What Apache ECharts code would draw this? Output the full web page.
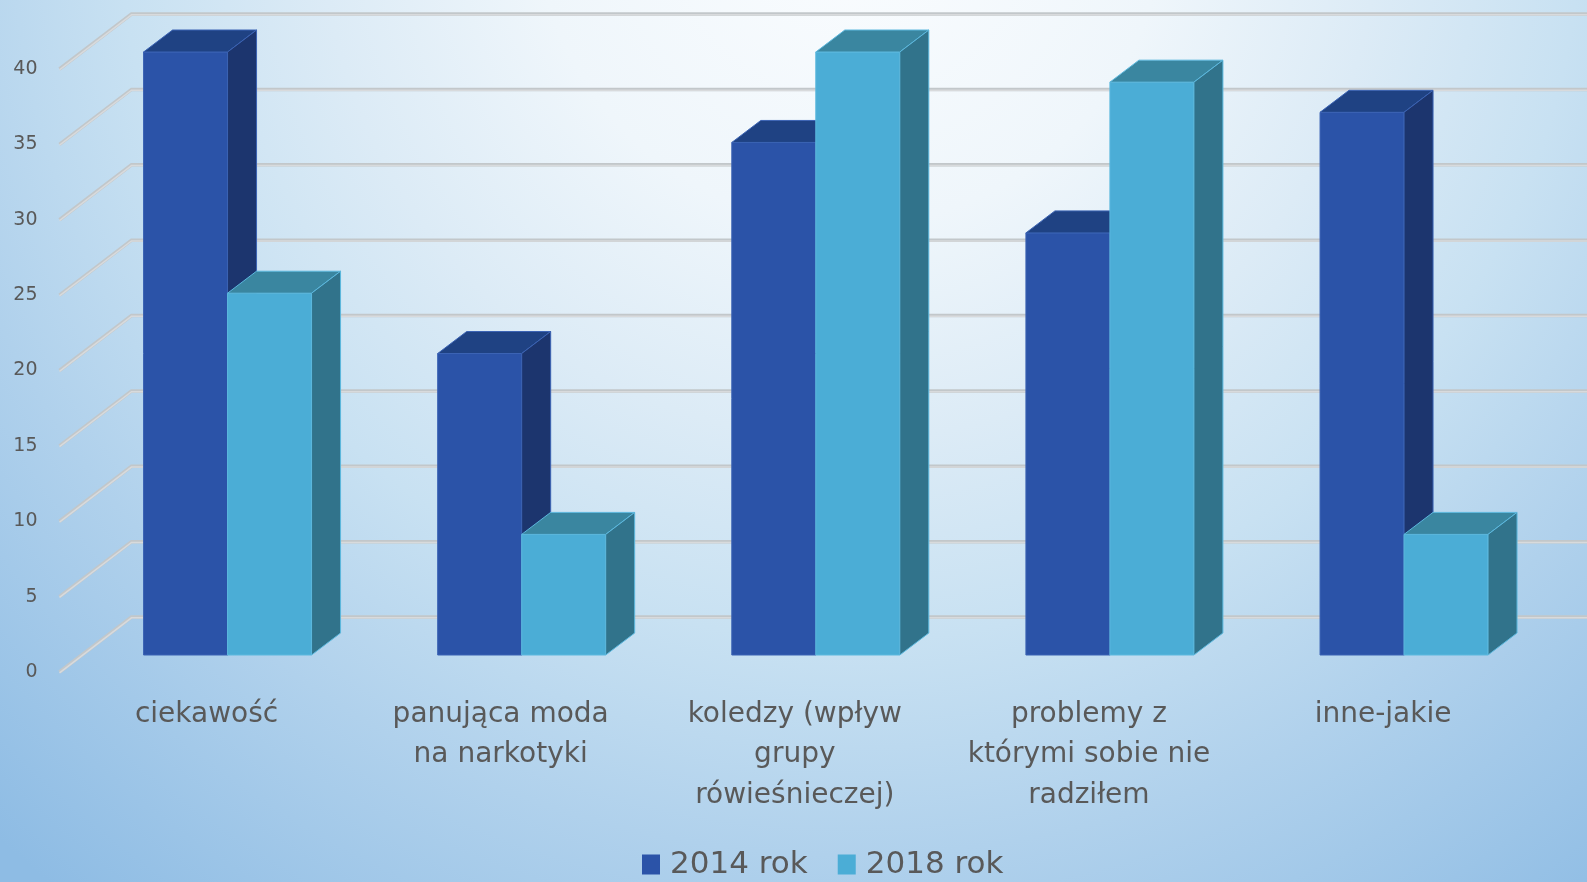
<!DOCTYPE html>
<html>
<head>
<meta charset="utf-8">
<script src="https://cdn.jsdelivr.net/npm/echarts@6/dist/echarts.min.js"></script>
<style>html,body{margin:0;padding:0}#chart{width:1587px;height:882px}</style>
</head>
<body>
<div id="chart"></div>
<script>
const categories = [
  'ciekawość',
  'panująca moda\nna narkotyki',
  'koledzy (wpływ\ngrupy\nrówieśnieczej)',
  'problemy z\nktórymi sobie nie\nradziłem',
  'inne-jakie'
];
const values2014 = [40, 20, 34, 28, 36];
const values2018 = [24, 8, 40, 38, 8];
const yTicks = [0, 5, 10, 15, 20, 25, 30, 35, 40];

const FONT = '"DejaVu Sans", sans-serif';
// fake 3d: bar front sits a bit behind the floor front edge
const BAR_W = 84, OFF_X = 21, OFF_Y = 17, DEPTH_X = 29, DEPTH_Y = 22;
const WALL_X = 72, WALL_Y = 55;

const chart = echarts.init(document.getElementById('chart'));

function barRenderer(leftSide, c) {
  return function (params, api) {
    const base = api.coord([api.value(0), 0]);
    const top = api.coord([api.value(0), api.value(1)]);
    const x0 = base[0] + OFF_X - (leftSide ? BAR_W : 0);
    const x1 = x0 + BAR_W;
    const yb = base[1] - OFF_Y;
    const yt = top[1] - OFF_Y;
    return {
      type: 'group',
      children: [
        { type: 'polygon', shape: { points: [[x0, yt], [x1, yt], [x1, yb], [x0, yb]] },
          style: { fill: c.front, stroke: c.edge, lineWidth: 1 } },
        { type: 'polygon', shape: { points: [[x0, yt], [x0 + DEPTH_X, yt - DEPTH_Y], [x1 + DEPTH_X, yt - DEPTH_Y], [x1, yt]] },
          style: { fill: c.top, stroke: c.edge, lineWidth: 1 } },
        { type: 'polygon', shape: { points: [[x1, yt], [x1 + DEPTH_X, yt - DEPTH_Y], [x1 + DEPTH_X, yb - DEPTH_Y], [x1, yb]] },
          style: { fill: c.side, stroke: c.edge, lineWidth: 1 } }
      ]
    };
  };
}

function wallRenderer(params, api) {
  const p = api.coord([0, api.value(1)]);
  const x0 = params.coordSys.x, y = p[1];
  return {
    type: 'group',
    children: [
      { type: 'polyline', shape: { points: [[x0, y], [x0 + WALL_X, y - WALL_Y], [1600, y - WALL_Y]] },
        style: { fill: 'none', stroke: '#c2c7ca', lineWidth: 3.5 } },
      { type: 'polyline', shape: { points: [[x0, y + 0.8], [x0 + WALL_X, y - WALL_Y + 0.8], [1600, y - WALL_Y + 0.8]] },
        style: { fill: 'none', stroke: '#d8dadc', lineWidth: 1.5 } }
    ]
  };
}

chart.setOption({
  backgroundColor: new echarts.graphic.RadialGradient(850, -90, 1260, [
    { offset: 0, color: '#fbfdff' },
    { offset: 0.25, color: '#eff6fb' },
    { offset: 0.42, color: '#dcebf6' },
    { offset: 0.58, color: '#c8e1f2' },
    { offset: 0.75, color: '#b0d1ec' },
    { offset: 1, color: '#8ebce4' }
  ], true),
  animation: false,
  grid: { left: 59.5, width: 1470.6, top: 69, bottom: 210 },
  legend: {
    data: ['2014 rok', '2018 rok'],
    left: 637,
    top: 844,
    icon: 'rect',
    itemWidth: 18,
    itemHeight: 20,
    itemGap: 30,
    textStyle: { fontSize: 31, color: '#595959', fontFamily: FONT, padding: [0, 0, 0, 5] }
  },
  xAxis: {
    type: 'category',
    data: categories,
    axisLine: { show: false },
    axisTick: { show: false },
    axisLabel: { interval: 0, margin: 22, fontSize: 28, lineHeight: 40.5, color: '#595959', fontFamily: FONT }
  },
  yAxis: {
    type: 'value',
    min: 0,
    max: 40,
    interval: 5,
    splitLine: { show: false },
    axisLine: { show: false },
    axisLabel: { margin: 22, fontSize: 19, color: '#595959', fontFamily: FONT }
  },
  series: [
    {
      type: 'custom', name: 'wall', z: 1, silent: true,
      renderItem: wallRenderer,
      data: yTicks.map(v => [0, v])
    },
    {
      type: 'custom', name: '2014 rok', z: 2,
      itemStyle: { color: '#2b53a8' },
      renderItem: barRenderer(true, { front: '#2b53a8', top: '#1f4283', side: '#1c356e', edge: '#3b63b4' }),
      data: values2014.map((v, i) => [i, v])
    },
    {
      type: 'custom', name: '2018 rok', z: 3,
      itemStyle: { color: '#4badd6' },
      renderItem: barRenderer(false, { front: '#4badd6', top: '#3a86a0', side: '#31738b', edge: '#5cb8de' }),
      data: values2018.map((v, i) => [i, v])
    }
  ]
});
</script>
</body>
</html>
